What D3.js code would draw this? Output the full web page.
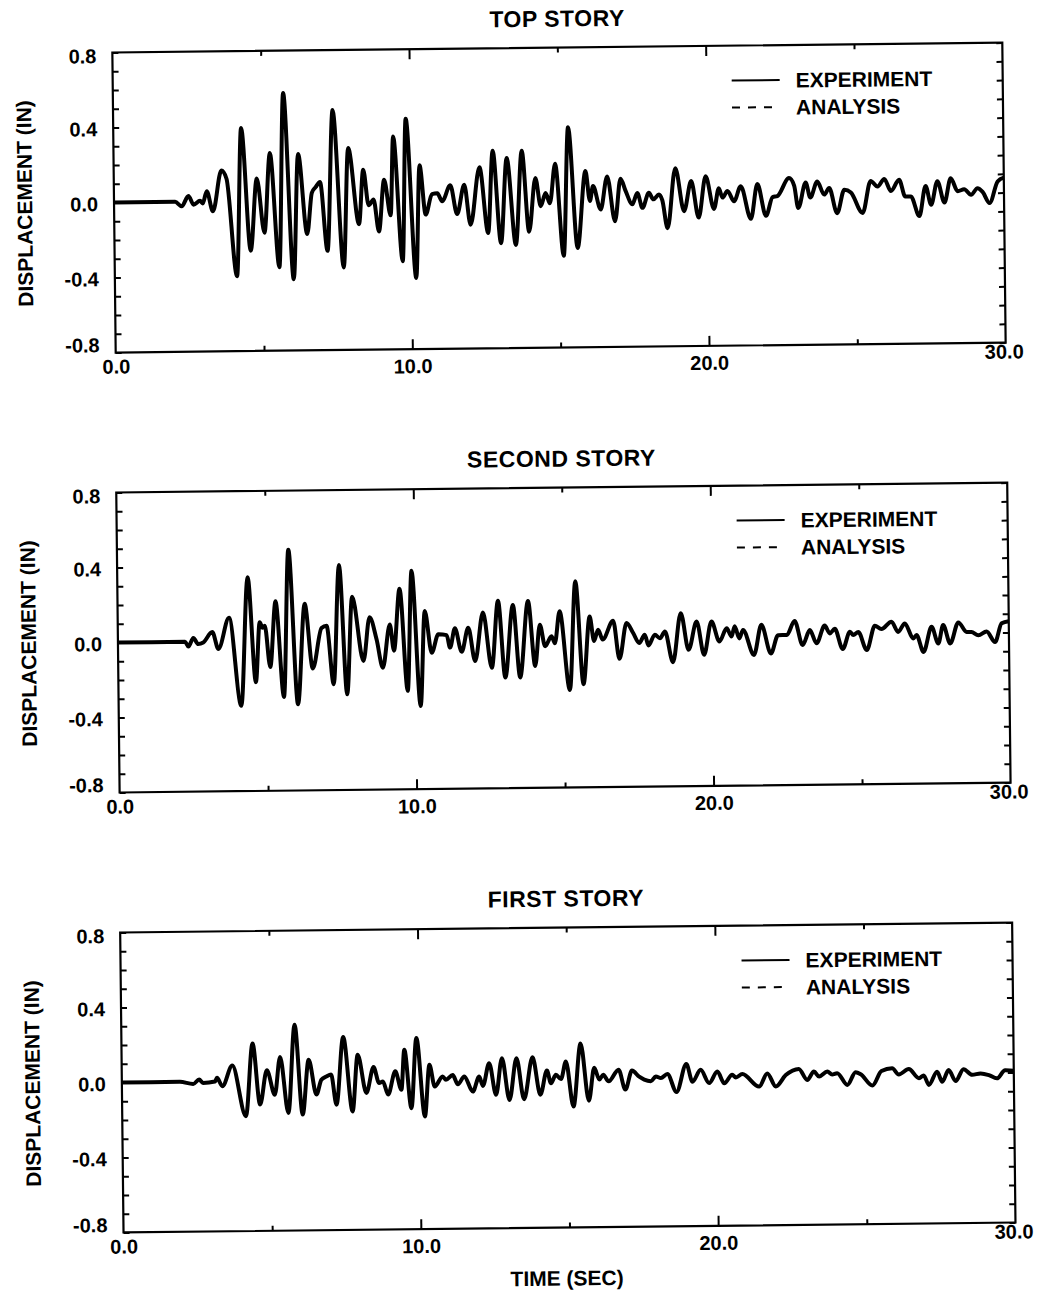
<!DOCTYPE html>
<html><head><meta charset="utf-8">
<script src="https://cdn.jsdelivr.net/npm/d3@7/dist/d3.min.js"></script>
<style>
html,body{margin:0;padding:0;background:#fff;}
svg text{font-family:"Liberation Sans",Arial,Helvetica,sans-serif;font-weight:bold;fill:#000;}
</style></head>
<body>
<svg id="chart" width="1043" height="1291"></svg>
<script>
// ---------- DATA ----------
const panelTitles = ["TOP STORY", "SECOND STORY", "FIRST STORY"];
const xTickLabels = [0, 10, 20, 30];
const xMinorTicks = [5, 15, 25];
const yTickLabels = [0.8, 0.4, 0.0, -0.4, -0.8];
const legendLabels = ["EXPERIMENT", "ANALYSIS"];
const yAxisTitle = "DISPLACEMENT (IN)";
const xAxisTitle = "TIME (SEC)";

// [time (sec), displacement (in)]
const topExperiment = [[0,0],[2.06,0],[2.28,-0.024],[2.51,0.03],[2.68,-0.016],[2.9,0.004],[2.99,-0.01],[3.13,0.055],[3.33,-0.053],[3.63,0.164],[3.8,0.12],[4.12,-0.40],[4.31,0.39],[4.59,-0.265],[4.82,0.12],[5.06,-0.17],[5.27,0.255],[5.55,-0.355],[5.74,0.574],[6.03,-0.42],[6.22,0.248],[6.5,-0.18],[6.67,0.04],[6.8,0.07],[6.95,0.097],[7.18,-0.27],[7.4,0.48],[7.72,-0.36],[7.91,0.277],[8.25,-0.13],[8.41,0.16],[8.58,-0.03],[8.75,0.0],[8.92,-0.17],[9.11,0.105],[9.32,-0.085],[9.43,0.336],[9.71,-0.33],[9.86,0.43],[10.16,-0.42],[10.31,0.18],[10.5,-0.083],[10.72,0.026],[10.9,0.03],[11.06,-0.013],[11.34,0.072],[11.56,-0.082],[11.81,0.074],[12.01,-0.14],[12.33,0.166],[12.6,-0.185],[12.78,0.254],[13.03,-0.24],[13.25,0.214],[13.53,-0.25],[13.76,0.252],[13.98,-0.18],[14.21,0.106],[14.38,-0.045],[14.55,0.025],[14.69,-0.03],[14.88,0.18],[15.14,-0.31],[15.33,0.374],[15.61,-0.27],[15.9,0.14],[16.04,-0.02],[16.15,0.06],[16.4,-0.066],[16.63,0.11],[16.88,-0.13],[17.08,0.097],[17.25,0.03],[17.47,-0.04],[17.64,0.02],[17.81,-0.06],[18.03,0.02],[18.18,-0.015],[18.37,0.01],[18.48,-0.02],[18.65,-0.17],[18.93,0.15],[19.21,-0.08],[19.46,0.08],[19.7,-0.115],[19.95,0.105],[20.22,-0.07],[20.39,0.04],[20.51,-0.01],[20.68,0.025],[20.9,-0.03],[21.13,0.05],[21.46,-0.125],[21.69,0.06],[21.97,-0.11],[22.2,-0.01],[22.36,-0.005],[22.76,0.09],[22.93,0.05],[23.06,-0.07],[23.32,0.065],[23.47,-0.015],[23.71,0.07],[23.94,0.0],[24.11,0.035],[24.37,-0.10],[24.62,0.025],[24.84,0.01],[25.23,-0.10],[25.51,0.07],[25.74,0.04],[25.97,0.08],[26.19,0.015],[26.47,0.075],[26.67,-0.015],[26.86,-0.015],[27.14,-0.12],[27.36,0.04],[27.54,-0.06],[27.76,0.065],[27.99,-0.05],[28.21,0.08],[28.44,0.01],[28.66,0.02],[28.89,-0.01],[29.11,0.025],[29.28,0.005],[29.51,-0.055],[29.79,0.06],[30,0.08]];
const topAnalysis = topExperiment.map(d => [d[0], d[1]]);

const secondExperiment = [[0,0],[2.26,0],[2.37,-0.026],[2.54,0.02],[2.7,-0.013],[2.87,-0.005],[3.18,0.05],[3.38,-0.04],[3.75,0.125],[4.13,-0.345],[4.39,0.34],[4.63,-0.22],[4.78,0.10],[4.87,0.07],[4.95,0.08],[5.12,-0.14],[5.32,0.21],[5.57,-0.30],[5.77,0.485],[6.04,-0.34],[6.3,0.195],[6.55,-0.15],[6.86,0.065],[7.03,0.077],[7.25,-0.235],[7.47,0.40],[7.7,-0.29],[7.9,0.23],[8.26,-0.113],[8.48,0.12],[8.71,0.0],[8.91,-0.15],[9.16,0.08],[9.29,-0.06],[9.5,0.27],[9.74,-0.275],[9.91,0.365],[10.17,-0.357],[10.34,0.15],[10.56,-0.073],[10.79,0.025],[11.07,0.02],[11.18,-0.047],[11.35,0.056],[11.57,-0.07],[11.8,0.058],[12.02,-0.12],[12.3,0.138],[12.58,-0.157],[12.81,0.2],[13.03,-0.21],[13.31,0.177],[13.53,-0.21],[13.82,0.197],[14.04,-0.15],[14.21,0.07],[14.38,-0.045],[14.6,0.008],[14.71,-0.03],[14.88,0.14],[15.2,-0.28],[15.42,0.30],[15.66,-0.25],[15.89,0.11],[16.03,-0.02],[16.17,0.04],[16.32,-0.013],[16.68,0.087],[16.88,-0.117],[17.13,0.074],[17.35,0.02],[17.55,-0.034],[17.74,0.01],[17.86,-0.047],[18.08,0.01],[18.25,-0.01],[18.42,0.026],[18.68,-0.138],[18.96,0.123],[19.21,-0.073],[19.49,0.078],[19.73,-0.10],[19.99,0.077],[20.25,-0.03],[20.5,0.04],[20.66,-0.005],[20.77,0.05],[20.92,-0.015],[21.05,0.03],[21.41,-0.104],[21.67,0.056],[21.98,-0.097],[22.23,0.0],[22.52,0.0],[22.79,0.075],[23.05,-0.054],[23.3,0.025],[23.52,-0.046],[23.8,0.048],[23.97,0.006],[24.14,0.03],[24.4,-0.078],[24.65,0.014],[24.76,-0.004],[24.93,0.012],[25.21,-0.085],[25.49,0.044],[25.71,0.026],[26.05,0.065],[26.27,0.01],[26.5,0.055],[26.78,-0.026],[26.89,-0.008],[27.12,-0.098],[27.4,0.035],[27.62,-0.054],[27.79,0.044],[28.02,-0.055],[28.3,0.057],[28.58,0.006],[28.74,0.005],[28.97,-0.013],[29.25,0.007],[29.53,-0.05],[29.76,0.05],[30,0.06]];
const secondAnalysis = secondExperiment.map(d => [d[0], d[1]]);

const firstExperiment = [[0,0],[1.95,0],[2.4,-0.012],[2.6,0.011],[2.73,-0.007],[3.13,0],[3.2,0.019],[3.38,-0.026],[3.72,0.084],[4.16,-0.187],[4.41,0.20],[4.64,-0.126],[4.88,0.057],[5.14,-0.074],[5.33,0.127],[5.59,-0.172],[5.83,0.298],[6.07,-0.182],[6.29,0.11],[6.54,-0.076],[6.71,0.003],[6.88,0.02],[7.04,0.03],[7.21,-0.131],[7.46,0.23],[7.75,-0.168],[7.94,0.134],[8.22,-0.07],[8.47,0.067],[8.65,-0.018],[8.78,-0.01],[8.95,-0.08],[9.2,0.043],[9.4,-0.055],[9.51,0.158],[9.73,-0.154],[9.92,0.22],[10.18,-0.199],[10.35,0.076],[10.52,-0.04],[10.79,0.013],[10.9,-0.005],[11.13,0.02],[11.3,-0.03],[11.52,0.012],[11.8,-0.069],[12.02,0.01],[12.14,-0.04],[12.36,0.081],[12.58,-0.088],[12.79,0.107],[13.03,-0.116],[13.28,0.106],[13.52,-0.113],[13.82,0.11],[14.07,-0.09],[14.3,0.039],[14.43,-0.03],[14.6,0.015],[14.77,-0.008],[14.94,0.085],[15.18,-0.155],[15.44,0.18],[15.7,-0.125],[15.89,0.05],[16.06,-0.013],[16.19,0.013],[16.37,-0.023],[16.71,0.039],[16.93,-0.068],[17.16,0.033],[17.4,0.0],[17.57,-0.016],[17.79,-0.025],[17.96,0.0],[18.13,-0.008],[18.35,0.013],[18.65,-0.084],[18.99,0.065],[19.19,-0.03],[19.47,0.033],[19.75,-0.038],[20.03,0.023],[20.26,-0.04],[20.53,0.005],[20.65,-0.01],[20.87,0.008],[21.43,-0.06],[21.71,0.01],[21.99,-0.06],[22.33,0.0],[22.77,0.032],[23.05,-0.027],[23.28,0.017],[23.45,-0.01],[23.73,0.016],[23.89,0.0],[24.06,0.007],[24.4,-0.056],[24.68,0.011],[24.85,0.0],[25.24,-0.061],[25.55,0.016],[25.91,0.03],[26.13,-0.003],[26.47,0.025],[26.81,-0.025],[26.97,-0.01],[27.14,-0.061],[27.42,0.009],[27.59,-0.045],[27.81,0.017],[28.04,-0.042],[28.31,0.021],[28.6,-0.01],[28.88,-0.003],[29.16,-0.012],[29.43,-0.03],[29.71,0.013],[30,0.01]];
const firstAnalysis = firstExperiment.map(d => [d[0], d[1]]);

const experimentSeries = [topExperiment, secondExperiment, firstExperiment];
const analysisSeries = [topAnalysis, secondAnalysis, firstAnalysis];

// ---------- LAYOUT ----------
const W = 1043, H = 1291;
const panelTops = [48, 488, 928];
const panelLefts = [119, 118, 117];
const panelRight = 1009;
const panelHeight = 300;

const svg = d3.select("#chart");
svg.append("rect").attr("width", W).attr("height", H).attr("fill", "#fff");
// the scanned page is tilted slightly counter-clockwise
const page = svg.append("g").attr("transform", "rotate(-0.64," + (W/2) + "," + (H/2) + ")");

const yMinor = d3.range(-8, 9).map(i => i / 10);
const fmt = v => d3.format(".1f")(v).replace("\u2212", "-");

panelTitles.forEach((title, i) => {
  const top = panelTops[i], left = panelLefts[i], bottom = top + panelHeight;
  const x = d3.scaleLinear().domain([0, 30]).range([left, panelRight]);
  const y = d3.scaleLinear().domain([-0.8, 0.8]).range([bottom, top]);
  const g = page.append("g");

  // title
  g.append("text").attr("x", (left + panelRight) / 2).attr("y", top - 21)
    .attr("text-anchor", "middle").attr("font-size", 23).attr("letter-spacing", 0.5).text(title);

  // data lines
  const line = d3.line().x(d => x(d[0])).y(d => y(d[1])).curve(d3.curveMonotoneX);
  g.append("path").datum(experimentSeries[i]).attr("d", line)
    .attr("fill", "none").attr("stroke", "#000").attr("stroke-width", 4).attr("stroke-linejoin", "round");
  g.append("path").datum(analysisSeries[i]).attr("d", line)
    .attr("fill", "none").attr("stroke", "#000").attr("stroke-width", 2).attr("stroke-dasharray", "8,6");

  // inward ticks via d3 axes
  const tickStyle = sel => { sel.select(".domain").remove(); sel.selectAll("line").attr("stroke", "#000").attr("stroke-width", 2); sel.selectAll("text").remove(); };
  g.append("g").attr("transform", `translate(${left},0)`)
    .call(d3.axisLeft(y).tickValues(yMinor).tickSize(-6)).call(tickStyle);
  g.append("g").attr("transform", `translate(${panelRight},0)`)
    .call(d3.axisRight(y).tickValues(yMinor).tickSize(-6)).call(tickStyle);
  [[top, d3.axisTop], [bottom, d3.axisBottom]].forEach(([yy, ax]) => {
    g.append("g").attr("transform", `translate(0,${yy})`)
      .call(ax(x).tickValues(xMinorTicks).tickSize(-5)).call(tickStyle);
    g.append("g").attr("transform", `translate(0,${yy})`)
      .call(ax(x).tickValues([10, 20]).tickSize(-10)).call(tickStyle);
  });

  // frame
  g.append("rect").attr("x", left).attr("y", top).attr("width", panelRight - left).attr("height", panelHeight)
    .attr("fill", "none").attr("stroke", "#000").attr("stroke-width", 2.2);

  // y tick labels
  const yl = g.append("g").attr("transform", `translate(${left - 16},0)`)
    .call(d3.axisLeft(y).tickValues(yTickLabels).tickSize(0).tickPadding(0).tickFormat(fmt));
  yl.select(".domain").remove();
  yl.selectAll("text").attr("font-size", 20).attr("font-family", null)
    .attr("dy", d => d === -0.8 ? "-0.05em" : (d === 0.8 ? "0.5em" : "0.4em"));

  // x tick labels
  const xl = g.append("g").attr("transform", `translate(0,${bottom + 9})`)
    .call(d3.axisBottom(x).tickValues(xTickLabels).tickSize(0).tickPadding(0).tickFormat(fmt));
  xl.select(".domain").remove();
  xl.selectAll("text").attr("font-size", 20).attr("font-family", null)
    .attr("dy", d => d === 30 ? "0.35em" : (d === 0 ? "0.6em" : "0.75em"))
    .attr("dx", d => d === 30 ? "-0.1em" : 0);

  // y axis title
  g.append("text").attr("transform", `translate(${left - 82},${(top + bottom) / 2}) rotate(-90)`)
    .attr("text-anchor", "middle").attr("font-size", 21).text(yAxisTitle);

  // legend
  const lx0 = 738, lx1 = 786, tx = 802;
  legendLabels.forEach((lab, k) => {
    const ly = top + 35 + k * 27;
    g.append("line").attr("x1", lx0).attr("x2", lx1).attr("y1", ly).attr("y2", ly)
      .attr("stroke", "#000").attr("stroke-width", 2).attr("stroke-dasharray", k === 1 ? "8,8" : null);
    g.append("text").attr("x", tx).attr("y", ly).attr("dy", "0.36em").attr("font-size", 21).text(lab);
  });

  if (i === 2) {
    g.append("text").attr("x", 560).attr("y", bottom + 58).attr("text-anchor", "middle")
      .attr("font-size", 21).text(xAxisTitle);
  }
});
</script>
</body></html>
